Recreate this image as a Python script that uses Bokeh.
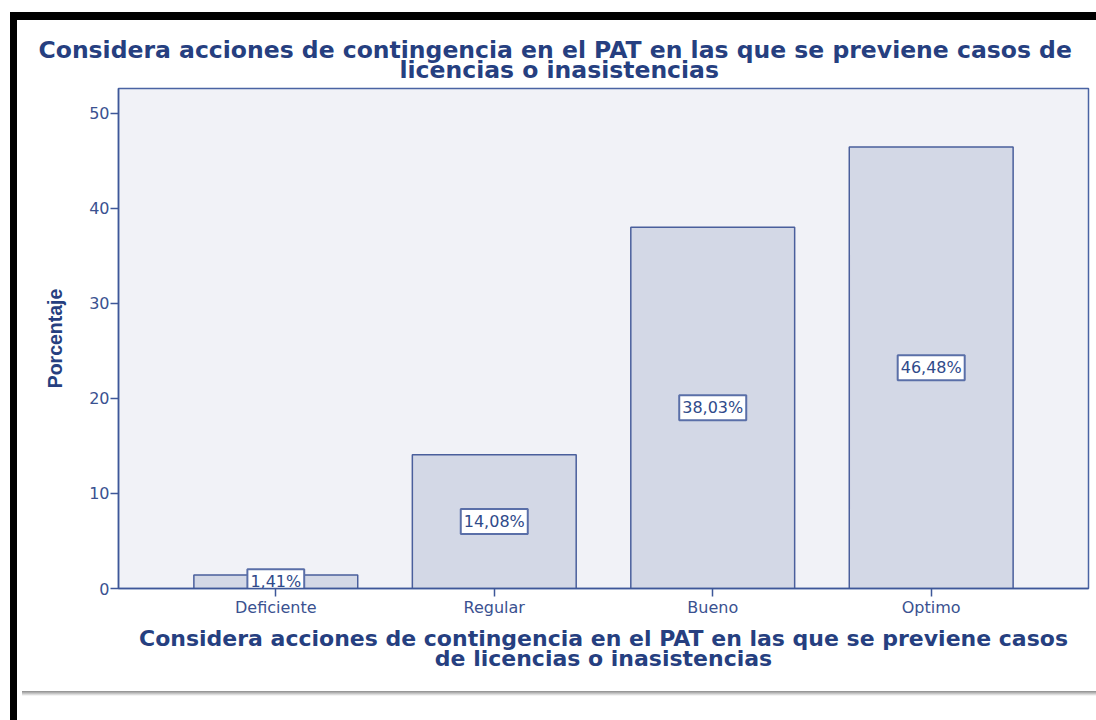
from bokeh.plotting import figure
from bokeh.layouts import column
from bokeh.models import ColumnDataSource, FactorRange, Range1d, Title, FixedTicker, Div
from bokeh.core.properties import value
from bokeh.embed import file_html
from bokeh.resources import INLINE

categories = ["Deficiente", "Regular", "Bueno", "Optimo"]
percentages = [1.41, 14.08, 38.03, 46.48]
bar_labels = ["1,41%", "14,08%", "38,03%", "46,48%"]
y_ticks = [0, 10, 20, 30, 40, 50]
title_lines = ["Considera acciones de contingencia en el PAT en las que se previene casos de",
               "licencias o inasistencias"]
xlabel_lines = ["Considera acciones de contingencia en el PAT en las que se previene casos",
                "de licencias o inasistencias"]
y_label = "Porcentaje"

W, H = 1079, 666
NAVY = "#263f80"
AXIS = "#3e5799"

src = ColumnDataSource(dict(cat=categories, pct=percentages,
                            mid=[v / 2 for v in percentages], lab=bar_labels))

p = figure(width=W, height=H, x_range=FactorRange(factors=categories, range_padding=0.11),
           y_range=Range1d(0, 52.63), output_backend="svg", toolbar_location=None,
           min_border_left=101, min_border_right=W - 1071, min_border_top=68,
           min_border_bottom=H - 568)

p.background_fill_color = "#f1f2f7"
p.border_fill_color = "white"
p.outline_line_color = "#4a63a3"
p.outline_line_width = 1.5
p.xgrid.visible = False
p.ygrid.visible = False

p.vbar(x="cat", top="pct", width=0.75, source=src, fill_color="#d3d8e6",
       line_color="#4a5f9c", line_width=1.5)

p.text(x="cat", y="mid", text="lab", source=src, text_align="center",
       text_baseline="middle", text_font=value("DejaVu Sans"), text_font_size="16px",
       text_color="#2f4a8a", background_fill_color="white",
       border_line_color="#5a6fa8", border_line_width=2, padding=3)

for ax in (p.xaxis[0], p.yaxis[0]):
    ax.axis_line_color = AXIS
    ax.axis_line_width = 1.5
    ax.major_tick_line_color = AXIS
    ax.major_tick_line_width = 1.5
    ax.major_tick_out = 8
    ax.major_tick_in = 0
    ax.minor_tick_line_color = None
    ax.major_label_text_color = "#3a5190"
    ax.major_label_text_font = "DejaVu Sans"
    ax.major_label_text_font_size = "16px"

p.yaxis.ticker = FixedTicker(ticks=y_ticks)
p.yaxis.major_label_standoff = 1
p.xaxis.major_label_standoff = 1

p.yaxis.axis_label = y_label
p.yaxis.axis_label_text_font = "Liberation Sans"
p.yaxis.axis_label_text_font_style = "bold"
p.yaxis.axis_label_text_font_size = "19.5px"
p.yaxis.axis_label_text_color = NAVY
p.yaxis.axis_label_standoff = 20

# title: second line nearest to the frame, first line above it
p.add_layout(Title(text=title_lines[1], align="left", offset=281, standoff=10,
                   text_font="DejaVu Sans", text_font_style="bold", text_font_size="23.5px",
                   text_color=NAVY), "above")
p.add_layout(Title(text=title_lines[0], align="left", offset=-80, standoff=-30,
                   text_font="DejaVu Sans", text_font_style="bold", text_font_size="23.5px",
                   text_color=NAVY), "above")

# x-axis label as two centred lines below the axis
for txt, so in zip(xlabel_lines, [8, -21]):
    p.add_layout(Title(text=txt, align="center", standoff=so, text_font="DejaVu Sans",
                       text_font_style="bold", text_font_size="22px", text_color=NAVY),
                 "below")

shadow = Div(text="", width=W, height=5,
             styles={"background": "linear-gradient(#8c8c8c, #ffffff)"})

page = column(p, shadow, spacing=0,
              styles={"border-left": "7px solid black", "border-top": "8px solid black",
                      "margin-left": "10px", "margin-top": "12px", "padding-bottom": "28px"})

open("out.html", "w").write(file_html(page, INLINE))
